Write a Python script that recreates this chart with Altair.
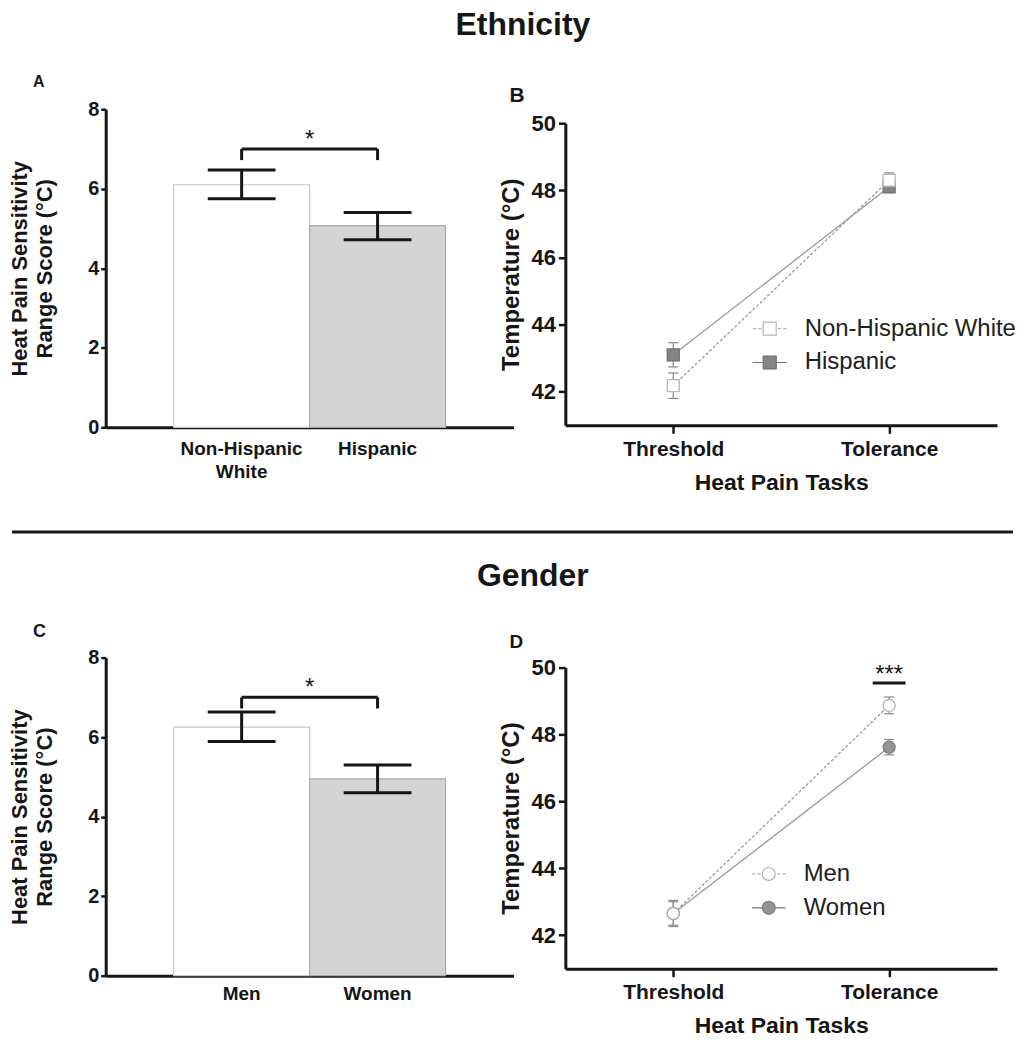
import altair as alt
import pandas as pd

FONT = "Liberation Sans"
INK = "#161616"

# ---------------- data ----------------
eth_groups = ["Non-Hispanic White", "Hispanic"]
eth_range_mean = [6.10, 5.07]
eth_range_low = [5.75, 4.72]
eth_range_high = [6.47, 5.40]

gen_groups = ["Men", "Women"]
gen_range_mean = [6.25, 4.95]
gen_range_low = [5.89, 4.60]
gen_range_high = [6.63, 5.30]

range_ticks = [0, 2, 4, 6, 8]
range_domain = [0, 8]
bracket_top = 7.0
bracket_leg_bottom = 6.72

tasks = ["Threshold", "Tolerance"]
eth_nhw_temp = [42.18, 48.30]
eth_nhw_sem = [0.38, 0.22]
eth_his_temp = [43.10, 48.10]
eth_his_sem = [0.36, 0.10]

gen_men_temp = [42.65, 48.87]
gen_men_sem = [0.39, 0.25]
gen_women_temp = [42.65, 47.62]
gen_women_sem = [0.35, 0.23]

temp_ticks = [42, 44, 46, 48, 50]
temp_domain = [41, 50]
sig_task = "Tolerance"
sig_line_temp = 49.54
sig_label = "***"

# legend symbols (unit paths: marker in [-1,1], connecting line outside)
SQ_DASH = "M-2.6,0H-2.1M-1.75,0H-1.25M1.25,0H1.75M2.1,0H2.6M-1,-1H1V1H-1Z"
SQ_SOLID = "M-2.6,0H-1M1,0H2.6M-1,-1H1V1H-1Z"
CI_DASH = "M-2.6,0H-2.1M-1.75,0H-1.25M1.25,0H1.75M2.1,0H2.6M1,0A1,1,0,1,1,-1,0A1,1,0,1,1,1,0Z"
CI_SOLID = "M-2.6,0H-1M1,0H2.6M1,0A1,1,0,1,1,-1,0A1,1,0,1,1,1,0Z"

INDEP = dict(fill="independent", stroke="independent", shape="independent")


def title_letter(letter, size, dx, offset):
    return alt.TitleParams(letter, anchor="start", frame="group", dx=dx, offset=offset,
                           fontSize=size, font=FONT, fontWeight="bold", color=INK,
                           baseline="bottom")


def bar_panel(groups, mean, low, high, letter, letter_size, letter_offset, label_pad):
    df = pd.DataFrame({"group": groups, "mean": mean, "low": low, "high": high})
    xscale = alt.Scale(domain=groups, paddingInner=0, paddingOuter=0.5)
    xaxis = alt.Axis(title=None, labelAngle=0, ticks=False, labelExpr="split(datum.label, ' ')",
                     labelFont=FONT, labelFontSize=19, labelFontWeight="bold", labelColor=INK,
                     labelBaseline="middle", labelPadding=label_pad, labelLineHeight=23,
                     domainColor=INK, domainWidth=3)
    yscale = alt.Scale(domain=range_domain, nice=False)
    yaxis = alt.Axis(values=range_ticks, title=["Heat Pain Sensitivity", "Range Score (°C)"],
                     grid=False, labelFont=FONT, labelFontSize=20, labelFontWeight="bold",
                     labelColor=INK, labelPadding=2, tickSize=5, tickWidth=2.5, tickColor=INK,
                     domainColor=INK, domainWidth=3, titleFont=FONT, titleFontSize=22,
                     titleFontWeight="bold", titleColor=INK, titleLineHeight=25, titlePadding=31)

    def X(field="group", **kw):
        return alt.X(f"{field}:N", scale=xscale, axis=xaxis, sort=groups, **kw)

    def Y(field):
        return alt.Y(f"{field}:Q", scale=yscale, axis=yaxis)

    base = alt.Chart(df)
    bars = base.mark_bar(strokeWidth=1.2).encode(
        x=X(), y=Y("mean"),
        fill=alt.Fill("group:N", scale=alt.Scale(domain=groups, range=["#ffffff", "#d4d4d4"]), legend=None),
        stroke=alt.Stroke("group:N", scale=alt.Scale(domain=groups, range=["#c6c6c6", "#a9a9a9"]), legend=None),
    )
    stem = base.mark_rule(color=INK, strokeWidth=3).encode(x=X(), y=Y("low"), y2="high:Q")
    cap_lo = base.mark_tick(color=INK, thickness=3, size=68, opacity=1).encode(x=X(), y=Y("low"))
    cap_hi = base.mark_tick(color=INK, thickness=3, size=68, opacity=1).encode(x=X(), y=Y("high"))

    bdf = pd.DataFrame({"left": [groups[0]], "right": [groups[1]], "top": [bracket_top]})
    bracket = alt.Chart(bdf).mark_rule(color=INK, strokeWidth=3).encode(
        x=X("left"), x2="right:N", y=Y("top"))
    ldf = pd.DataFrame({"group": groups, "bottom": [bracket_leg_bottom] * 2, "top": [bracket_top] * 2})
    legs = alt.Chart(ldf).mark_rule(color=INK, strokeWidth=3).encode(x=X(), y=Y("bottom"), y2="top:Q")
    sdf = pd.DataFrame({"group": [groups[0]], "top": [bracket_top], "label": ["*"]})
    star = alt.Chart(sdf).mark_text(font=FONT, fontSize=24, baseline="alphabetic", dy=-2, color=INK).encode(
        x=X(bandPosition=1), y=Y("top"), text="label:N")

    return alt.layer(bars, stem, cap_lo, cap_hi, bracket, legs, star).properties(
        width=409, height=319, title=title_letter(letter, letter_size, -73, letter_offset))


def line_panel(groups, temps, sems, marker, fills, strokes, legend_paths, letter, letter_size,
               letter_offset, height, top_gap, legend_xy, sig=False):
    rows = []
    for i in (1, 0):
        for task, t, s in zip(tasks, temps[i], sems[i]):
            rows.append({"group": groups[i], "task": task, "temp": t, "low": t - s, "high": t + s})
    df = pd.DataFrame(rows)

    xscale = alt.Scale(type="point", domain=tasks, padding=0.5)
    xaxis = alt.Axis(title="Heat Pain Tasks", labelAngle=0, labelFont=FONT, labelFontSize=21,
                     labelFontWeight="bold", labelColor=INK, labelPadding=5, tickSize=8,
                     tickWidth=2.5, tickColor=INK, domainColor=INK, domainWidth=3,
                     titleFont=FONT, titleFontSize=23, titleFontWeight="bold", titleColor=INK,
                     titlePadding=12)
    yscale = alt.Scale(domain=temp_domain, nice=False, zero=False, range=[height, top_gap])
    yaxis = alt.Axis(values=temp_ticks, title="Temperature (°C)", grid=False, labelFont=FONT,
                     labelFontSize=22, labelFontWeight="bold", labelColor=INK, labelPadding=3,
                     tickSize=7, tickWidth=2.5, tickColor=INK, domainColor=INK, domainWidth=3,
                     titleFont=FONT, titleFontSize=24, titleFontWeight="bold", titleColor=INK,
                     titlePadding=8)

    def X(field="task", **kw):
        return alt.X(f"{field}:N", scale=xscale, axis=xaxis, sort=tasks, **kw)

    def Y(field):
        return alt.Y(f"{field}:Q", scale=yscale, axis=yaxis)

    fill_scale = alt.Scale(domain=groups, range=fills)
    stroke_scale = alt.Scale(domain=groups, range=strokes)
    legend = alt.Legend(title=None, orient="none", legendX=legend_xy[0], legendY=legend_xy[1],
                        direction="vertical", labelFont=FONT, labelFontSize=24, labelColor="#202020",
                        labelLimit=400, symbolSize=169, symbolStrokeWidth=1.2, symbolOpacity=1,
                        labelOffset=23, rowPadding=10, padding=0)

    base = alt.Chart(df)
    line_dashed = base.transform_filter(alt.datum.group == groups[0]).mark_line(
        color="#9a9a9a", strokeWidth=1.3, strokeDash=[3, 2]).encode(x=X(), y=Y("temp"))
    line_solid = base.transform_filter(alt.datum.group == groups[1]).mark_line(
        color="#9a9a9a", strokeWidth=1.3).encode(x=X(), y=Y("temp"))
    stem = base.mark_rule(color="#8a8a8a", strokeWidth=1.2).encode(x=X(), y=Y("low"), y2="high:Q")
    cap_lo = base.mark_tick(color="#8a8a8a", thickness=1.2, size=10, opacity=1).encode(x=X(), y=Y("low"))
    cap_hi = base.mark_tick(color="#8a8a8a", thickness=1.2, size=10, opacity=1).encode(x=X(), y=Y("high"))
    pts = base.mark_point(shape=marker, size=144, filled=True, strokeWidth=1.3, opacity=1).encode(
        x=X(), y=Y("temp"),
        fill=alt.Fill("group:N", scale=fill_scale, legend=legend),
        stroke=alt.Stroke("group:N", scale=stroke_scale, legend=legend))

    leg = alt.Chart(pd.DataFrame({"group": groups})).mark_point(filled=True, opacity=0).encode(
        shape=alt.Shape("group:N", scale=alt.Scale(domain=groups, range=legend_paths), legend=legend),
        fill=alt.Fill("group:N", scale=fill_scale, legend=legend),
        stroke=alt.Stroke("group:N", scale=stroke_scale, legend=legend))

    layers = [line_dashed, line_solid, stem, cap_lo, cap_hi, pts, leg]
    if sig:
        sdf = pd.DataFrame({"task": [sig_task], "y": [sig_line_temp], "label": [sig_label]})
        layers.append(alt.Chart(sdf).mark_tick(color=INK, thickness=3, size=33, opacity=1).encode(
            x=X(), y=Y("y")))
        layers.append(alt.Chart(sdf).mark_text(font=FONT, fontSize=24, baseline="alphabetic", dy=-1,
                                               color=INK).encode(x=X(), y=Y("y"), text="label:N"))
    return alt.layer(*layers).properties(
        width=433, height=height, title=title_letter(letter, letter_size, -56, letter_offset))


panel_a = bar_panel(eth_groups, eth_range_mean, eth_range_low, eth_range_high, "A", 16, -7, 21)
panel_b = line_panel(eth_groups, [eth_nhw_temp, eth_his_temp], [eth_nhw_sem, eth_his_sem], "square",
                     ["#ffffff", "#858585"], ["#b8b8b8", "#6e6e6e"], [SQ_DASH, SQ_SOLID],
                     "B", 21, -18, 317, 14, (193, 208))
panel_c = bar_panel(gen_groups, gen_range_mean, gen_range_low, gen_range_high, "C", 18, -11, 18)
panel_d = line_panel(gen_groups, [gen_men_temp, gen_women_temp], [gen_men_sem, gen_women_sem], "circle",
                     ["#ffffff", "#949494"], ["#b0b0b0", "#7c7c7c"], [CI_DASH, CI_SOLID],
                     "D", 19, -14, 312, 10, (192, 205), sig=True)


def row_title(text, dx, offset):
    return alt.TitleParams(text, anchor="middle", frame="bounds", dx=dx, offset=offset, fontSize=32,
                           font=FONT, fontWeight="bold", color=INK, baseline="bottom")


row1 = alt.hconcat(panel_a, panel_b, spacing=-15).properties(
    title=row_title("Ethnicity", 10, 0)).resolve_scale(**INDEP).resolve_legend(**INDEP)
row2 = alt.hconcat(panel_c, panel_d, spacing=-15).properties(
    title=row_title("Gender", 30, -2)).resolve_scale(**INDEP).resolve_legend(**INDEP)

sep = alt.Chart(pd.DataFrame({"k": [0]})).mark_rule(color=INK, strokeWidth=3).encode(
    x=alt.value(-94), x2=alt.value(910), y=alt.value(38)).properties(width=1, height=66)

chart = alt.vconcat(row1, sep, row2, spacing=0).resolve_scale(**INDEP).resolve_legend(**INDEP).properties(
    padding=0).configure(font=FONT).configure_view(strokeWidth=0)

chart.save("out.html", embed_options={"renderer": "svg", "actions": False})
